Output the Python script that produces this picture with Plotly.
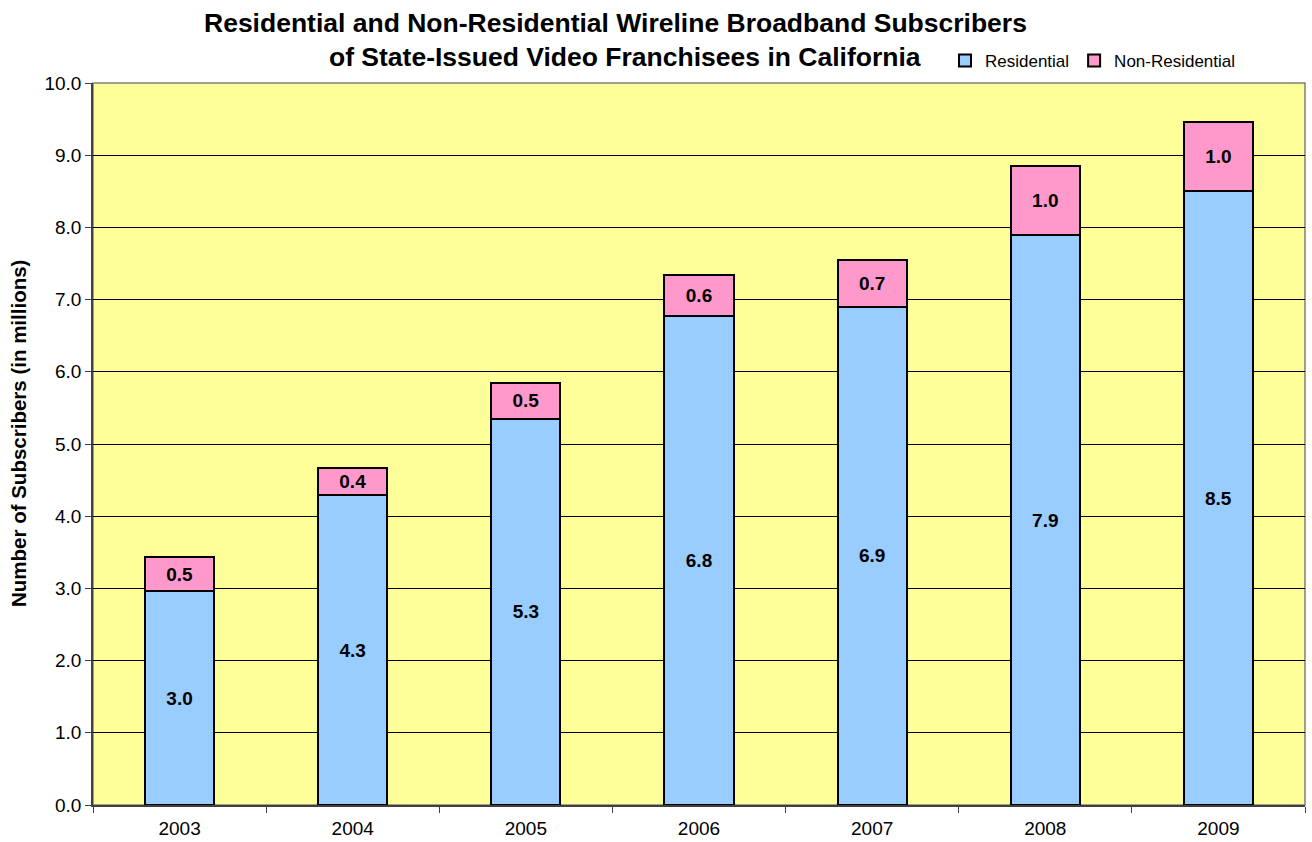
import plotly.graph_objects as go

years = ["2003", "2004", "2005", "2006", "2007", "2008", "2009"]
residential = [2.96, 4.29, 5.35, 6.77, 6.90, 7.89, 8.50]
non_residential = [0.47, 0.38, 0.50, 0.57, 0.65, 0.96, 0.96]
y_ticks = [0, 1, 2, 3, 4, 5, 6, 7, 8, 9, 10]

FONT = "Liberation Sans, Arial, sans-serif"
L, R, T, B = 93, 7, 83, 37
W, H = 1312, 842
PW, PH = W - L - R, H - T - B


def px_x(x):
    return (x - L) / PW


def px_y(y):
    return (H - B - y) / PH


fig = go.Figure()
for name, vals, col in [("Residential", residential, "#99CCFF"),
                        ("Non-Residential", non_residential, "#FF99CC")]:
    fig.add_trace(go.Bar(
        x=years, y=vals, name=name,
        marker=dict(color=col, line=dict(color="black", width=2)),
        texttemplate="<b>%{y:.1f}</b>", textposition="inside", insidetextanchor="middle",
        textfont=dict(size=19, color="black", family=FONT), constraintext="none",
    ))

fig.update_layout(
    barmode="stack",
    bargap=0.6,
    width=W, height=H,
    margin=dict(l=L, r=R, t=T, b=B, autoexpand=False),
    paper_bgcolor="white",
    plot_bgcolor="#FFFF99",
    font=dict(family=FONT, color="black"),
    legend=dict(
        orientation="h", x=px_x(945), xanchor="left",
        y=px_y(61), yanchor="middle",
        font=dict(size=17, family=FONT), bgcolor="rgba(0,0,0,0)",
        traceorder="normal", itemclick=False, itemwidth=30,
    ),
    showlegend=True,
)
# Title lines
fig.add_annotation(text="<b>Residential and Non-Residential Wireline Broadband Subscribers</b>",
                   xref="paper", yref="paper", x=px_x(615), y=px_y(23),
                   xanchor="center", yanchor="middle",
                   showarrow=False, font=dict(size=26.5, family=FONT, color="black"))
fig.add_annotation(text="<b>of State-Issued Video Franchisees in California</b>",
                   xref="paper", yref="paper", x=px_x(625), y=px_y(57),
                   xanchor="center", yanchor="middle",
                   showarrow=False, font=dict(size=26.5, family=FONT, color="black"))
# Y axis title
fig.add_annotation(text="<b>Number of Subscribers (in millions)</b>",
                   xref="paper", yref="paper", x=px_x(18), y=px_y(434),
                   xanchor="center", yanchor="middle", textangle=-90,
                   showarrow=False, font=dict(size=20.5, family=FONT, color="black"))

fig.update_xaxes(
    type="category", tickson="boundaries", ticks="outside", ticklen=6,
    tickcolor="#404040", showline=True, linecolor="#404040", linewidth=1.5,
    tickfont=dict(size=19, family=FONT), showgrid=False, automargin=False,
    ticklabelstandoff=5,
)
fig.update_yaxes(
    range=[0, 10], tickvals=y_ticks, tickformat=".1f", ticks="outside", ticklen=6,
    tickcolor="#404040", showline=True, linecolor="#404040", linewidth=1.5,
    showgrid=True, gridcolor="black", gridwidth=1,
    tickfont=dict(size=19, family=FONT), automargin=False,
    zeroline=False,
)
fig.add_shape(type="rect", xref="paper", yref="paper", x0=0, y0=0, x1=1, y1=1,
              line=dict(color="#808080", width=1.5), layer="below")

fig.write_html("out.html", config={"displayModeBar": False},
               post_script="document.body.style.margin='0';document.body.style.padding='0';")
